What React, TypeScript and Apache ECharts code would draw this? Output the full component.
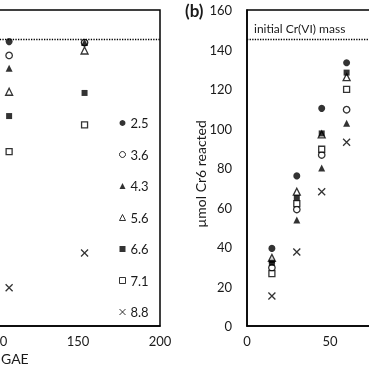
import React, { useEffect, useRef } from "react";
import * as echarts from "echarts";

const seriesNames = ["2.5", "3.6", "4.3", "5.6", "6.6", "7.1", "8.8"];
const leftX = [108, 154];
const leftValues = [
  [144, 143.5],
  [137, 143.5],
  [130.5, 143.5],
  [118.6, 139.5],
  [106.3, 118],
  [88.3, 101.8],
  [19.4, 37],
];
const rightX = [15, 30, 45, 60];
const rightValues = [
  [39.3, 76, 110.2, 133.3],
  [29.5, 59, 86.6, 109.5],
  [33.5, 53.7, 80, 102.6],
  [34.5, 68, 97, 126],
  [32, 64.8, 97.5, 128.3],
  [26.5, 62, 89.5, 119.8],
  [15.2, 37.5, 68, 93],
];
const initialMass = 145;
const leftXTicks = { min: 50, max: 200, interval: 50 };
const rightXTicks = { min: 0, max: 100, interval: 50 };
const yTicks = { min: 0, max: 160, interval: 20 };

const CROSS = "path://M0,0L10,10M10,0L0,10";
const markerStyles = [
  { symbol: "circle", size: 7, fill: "#000" },
  { symbol: "circle", size: 6.5, fill: "#fff" },
  { symbol: "triangle", size: 7, fill: "#000" },
  { symbol: "triangle", size: 7, fill: "#fff" },
  { symbol: "rect", size: 6, fill: "#000" },
  { symbol: "rect", size: 6, fill: "#fff" },
  { symbol: CROSS, size: 7, fill: "none" },
];

const FONT = "Lato";
const OFFSET = 120;

export default function App() {
  const ref = useRef<HTMLDivElement>(null);
  useEffect(() => {
    document.body.style.overflow = "hidden";
    const chart = echarts.init(ref.current!, null, { renderer: "svg" });
    const series: any[] = [];
    seriesNames.forEach((name, i) => {
      const m = markerStyles[i];
      const itemStyle = {
        color: m.fill,
        borderColor: "#000",
        borderWidth: m.fill === "#000" ? 0 : 1.3,
      };
      series.push({
        name,
        type: "scatter",
        xAxisIndex: 0,
        yAxisIndex: 0,
        symbol: m.symbol,
        symbolSize: m.size,
        itemStyle,
        data: leftX.map((x, j) => [x, leftValues[i][j]]),
        markLine:
          i === 0
            ? {
                silent: true,
                symbol: "none",
                lineStyle: { color: "#000", type: "dotted", width: 1.3 },
                label: { show: false },
                data: [{ yAxis: initialMass }],
              }
            : undefined,
      });
      series.push({
        name,
        type: "scatter",
        xAxisIndex: 1,
        yAxisIndex: 1,
        symbol: m.symbol,
        symbolSize: m.size,
        itemStyle,
        data: rightX.map((x, j) => [x, rightValues[i][j]]),
        markLine:
          i === 0
            ? {
                silent: true,
                symbol: "none",
                lineStyle: { color: "#000", type: "dotted", width: 1.3 },
                label: {
                  show: true,
                  position: "insideStartTop",
                  formatter: "initial Cr(VI) mass",
                  color: "#1a1a1a",
                  fontFamily: FONT,
                  fontSize: 12,
                  distance: [7, 5],
                },
                data: [{ yAxis: initialMass }],
              }
            : undefined,
      });
    });

    const axisLine = { show: true, lineStyle: { color: "#000", width: 1.5 } };
    const axisLabel = { color: "#1a1a1a", fontFamily: FONT, fontSize: 13 };

    chart.setOption({
      animation: false,
      grid: [
        { left: 34, width: 246, top: 10, height: 316, show: true, borderColor: "#000", borderWidth: 1.5 },
        { left: 367, width: 166, top: 10, height: 316, show: true, borderColor: "#000", borderWidth: 1.5 },
      ],
      xAxis: [
        {
          gridIndex: 0, type: "value", ...leftXTicks,
          axisLine, axisTick: { show: false }, splitLine: { show: false },
          axisLabel: { ...axisLabel, margin: 8 },
        },
        {
          gridIndex: 1, type: "value", ...rightXTicks,
          axisLine, axisTick: { show: false }, splitLine: { show: false },
          axisLabel: { ...axisLabel, margin: 8 },
        },
      ],
      yAxis: [
        {
          gridIndex: 0, type: "value", ...yTicks,
          axisLine, axisTick: { show: false }, splitLine: { show: false },
          axisLabel: { show: false },
        },
        {
          gridIndex: 1, type: "value", ...yTicks,
          axisLine, axisTick: { show: false }, splitLine: { show: false },
          axisLabel: { ...axisLabel, margin: 15 },
        },
      ],
      legend: {
        orient: "vertical",
        left: 237,
        top: 115,
        padding: 0,
        data: seriesNames.map((name, i) => ({
          name,
          itemStyle: { borderWidth: markerStyles[i].fill === "#000" ? 0 : 1 },
        })),
        selectedMode: false,
        itemWidth: 6,
        itemHeight: 6,
        itemGap: 15.5,
        textStyle: { color: "#1a1a1a", fontFamily: FONT, fontSize: 13, lineHeight: 16 },
      },
      graphic: [
        {
          type: "text", left: 305, top: 2,
          style: { text: "(b)", fill: "#1a1a1a", font: `bold 17px ${FONT}` },
        },
        {
          type: "text", left: OFFSET + 1, top: 351,
          style: { text: "GAE", fill: "#1a1a1a", font: `14px ${FONT}` },
        },
        {
          type: "text", x: OFFSET + 200, y: 174, rotation: Math.PI / 2,
          style: {
            text: "µmol Cr6 reacted", fill: "#1a1a1a", font: `14px ${FONT}`,
            align: "center", verticalAlign: "middle",
          },
        },
      ],
      series,
    });
    return () => chart.dispose();
  }, []);
  return (
    <div
      ref={ref}
      style={{ position: "fixed", left: -OFFSET, top: 0, width: 573, height: 369 }}
    />
  );
}
